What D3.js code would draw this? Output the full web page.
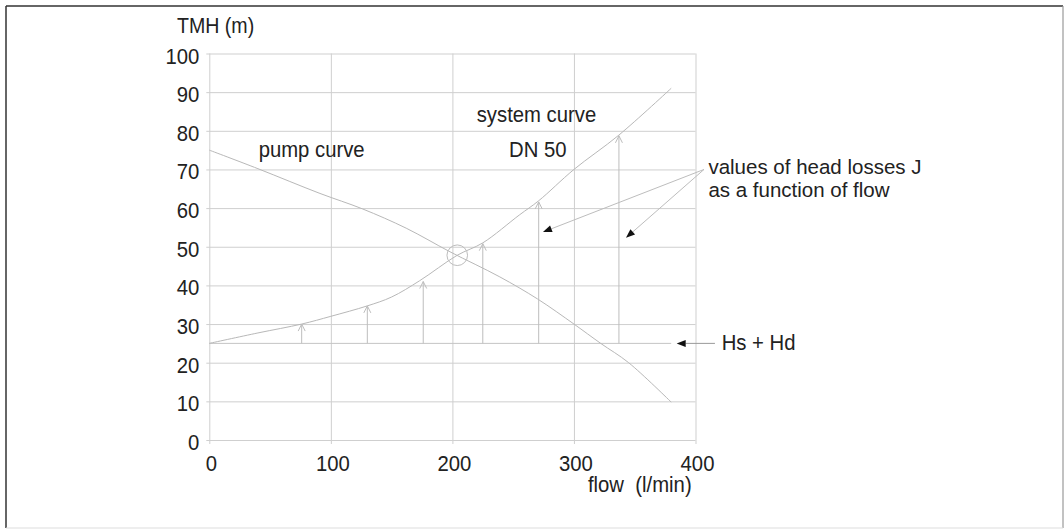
<!DOCTYPE html>
<html>
<head>
<meta charset="utf-8">
<script src="https://cdn.jsdelivr.net/npm/d3@7/dist/d3.min.js"></script>
<style>
  html, body { margin: 0; padding: 0; background: #fff; }
  svg { display: block; }
  text { font-family: "Liberation Sans", Arial, sans-serif; fill: #222; }
</style>
</head>
<body>
<svg id="chart" width="1064" height="529"></svg>
<script>
// ---- data ----
const flowTicks = [0, 100, 200, 300, 400];
const headTicks = [0, 10, 20, 30, 40, 50, 60, 70, 80, 90, 100];

const systemFlow = [0, 40, 76, 100, 130, 150, 173, 204, 225, 255, 271, 300, 337, 380];
const systemHead = [25, 27.7, 30, 32, 34.7, 37, 41.2, 47.8, 51, 58.2, 61.9, 70, 78.9, 91];

const pumpFlow = [0, 40, 91, 126, 162, 198, 239, 270, 300, 322, 345, 380];
const pumpHead = [75, 70.2, 63.8, 59.8, 54.8, 48.7, 42.2, 36.5, 30, 25, 20, 9.8];

const staticHead = 25;          // Hs + Hd
const staticEndFlow = 380;
const lossFlow = [76, 130, 176, 225, 271, 337];
const lossTop  = [30, 34.7, 41, 50.8, 61.6, 78.7];

const operatingPoint = { flow: 204, head: 47.8 };

const noteLines = ["values of head losses J", "as a function of flow"];

// ---- layout ----
const svg = d3.select("#chart");
const x = d3.scaleLinear().domain([0, 400]).range([209.3, 695.5]);
const y = d3.scaleLinear().domain([0, 100]).range([440, 53.5]);

const FS = 20.3, STRETCH = 1.1;
const gridColor = "#cfcfcf";
const curveColor = "#b8b8b8";

// outer frame
svg.append("line").attr("x1", 6).attr("y1", 6).attr("x2", 1063).attr("y2", 6)
  .attr("stroke", "#333").attr("stroke-width", 1.5);
svg.append("line").attr("x1", 6).attr("y1", 6).attr("x2", 6).attr("y2", 528)
  .attr("stroke", "#333").attr("stroke-width", 1.5);
svg.append("line").attr("x1", 1063).attr("y1", 6).attr("x2", 1063).attr("y2", 528)
  .attr("stroke", "#999").attr("stroke-width", 1.2);
svg.append("line").attr("x1", 6).attr("y1", 528).attr("x2", 1063).attr("y2", 528)
  .attr("stroke", "#ddd").attr("stroke-width", 1.2);

// y grid + labels
const yAxis = d3.axisLeft(y).tickValues(headTicks)
  .tickSizeInner(-(x(400) - x(0)) - 3).tickSizeOuter(0).tickPadding(10);
const gy = svg.append("g").attr("transform", `translate(${x(0) - 3},0)`).call(yAxis);
gy.select(".domain").remove();
gy.selectAll(".tick line").attr("stroke", gridColor).attr("x1", 0).attr("x2", x(400) - x(0) + 3);
gy.selectAll(".tick text")
  .attr("font-size", FS).attr("fill", "#222")
  .attr("font-family", '"Liberation Sans", Arial, sans-serif')
  .attr("x", null).attr("y", null).attr("dy", null)
  .attr("transform", `translate(-7,${0.47 * FS}) scale(1,${STRETCH})`);

// x grid + labels
const xAxis = d3.axisBottom(x).tickValues(flowTicks)
  .tickSizeInner(-(y(0) - y(100)) - 4).tickSizeOuter(0).tickPadding(16);
const gx = svg.append("g").attr("transform", `translate(0,${y(0) + 4})`).call(xAxis);
gx.select(".domain").remove();
gx.selectAll(".tick line").attr("stroke", gridColor);
gx.selectAll(".tick text")
  .attr("font-size", FS).attr("fill", "#222")
  .attr("font-family", '"Liberation Sans", Arial, sans-serif')
  .attr("x", null).attr("y", null).attr("dy", null)
  .attr("transform", `translate(1.5,26.7) scale(1,${STRETCH})`);

// static head line
svg.append("line")
  .attr("x1", x(0)).attr("x2", x(staticEndFlow))
  .attr("y1", y(staticHead)).attr("y2", y(staticHead))
  .attr("stroke", "#c4c4c4").attr("stroke-width", 1);

// curves
const line = d3.line().x(d => x(d[0])).y(d => y(d[1])).curve(d3.curveCatmullRom.alpha(0.5));
svg.append("path").attr("d", line(d3.zip(systemFlow, systemHead)))
  .attr("fill", "none").attr("stroke", curveColor).attr("stroke-width", 1);
svg.append("path").attr("d", line(d3.zip(pumpFlow, pumpHead)))
  .attr("fill", "none").attr("stroke", curveColor).attr("stroke-width", 1);

// head-loss arrows
const loss = svg.append("g").attr("stroke", "#bdbdbd").attr("stroke-width", 1).attr("fill", "none");
lossFlow.forEach((f, i) => {
  const px = x(f), top = y(lossTop[i]), bot = y(staticHead);
  loss.append("line").attr("x1", px).attr("x2", px).attr("y1", bot).attr("y2", top);
  loss.append("path").attr("d", `M${px - 3.5},${top + 7}L${px},${top}L${px + 3.5},${top + 7}`);
});

// operating point circle
svg.append("circle").attr("cx", x(operatingPoint.flow)).attr("cy", y(operatingPoint.head))
  .attr("r", 10.3).attr("fill", "none").attr("stroke", "#bdbdbd").attr("stroke-width", 1);

// annotation pointers
function pointer(fromF, fromH, toF, toH, color) {
  const x1 = x(fromF), y1 = y(fromH), x2 = x(toF), y2 = y(toH);
  const ang = Math.atan2(y2 - y1, x2 - x1);
  const len = 9, half = 3.5;
  const bx = x2 - len * Math.cos(ang), by = y2 - len * Math.sin(ang);
  svg.append("line").attr("x1", x1).attr("y1", y1).attr("x2", bx).attr("y2", by)
    .attr("stroke", color).attr("stroke-width", 1);
  const nx = -Math.sin(ang) * half, ny = Math.cos(ang) * half;
  svg.append("path")
    .attr("d", `M${x2},${y2}L${bx + nx},${by + ny}L${bx - nx},${by - ny}Z`)
    .attr("fill", "#111");
}
pointer(407, 70, 274.5, 53.8, "#bdbdbd");
pointer(407, 70, 342.8, 52.3, "#bdbdbd");
pointer(416, 25, 384.5, 25, "#999");

// labels
function label(txt, f, h, size, stretch) {
  svg.append("text")
    .attr("transform", `translate(${x(f)},${y(h)}) scale(1,${stretch || STRETCH})`)
    .attr("font-size", size || FS)
    .attr("xml:space", "preserve").style("white-space", "pre")
    .text(txt);
}
label("TMH (m)", -26.6, 105.23, 19.6);
label("pump curve", 40.6, 73.14);
label("system curve", 220, 82.35);
label("DN 50", 246.6, 73.14);
label("Hs + Hd", 421.5, 23.29);
label("flow  (l/min)", 311.5, -13.38);

// two-line note (spaced so the lines do not collide)
label(noteLines[0], 410.6, 68.8, 20.5, 1.0);
label(noteLines[1], 410.6, 62.85, 20.5, 1.0);
</script>
</body>
</html>
